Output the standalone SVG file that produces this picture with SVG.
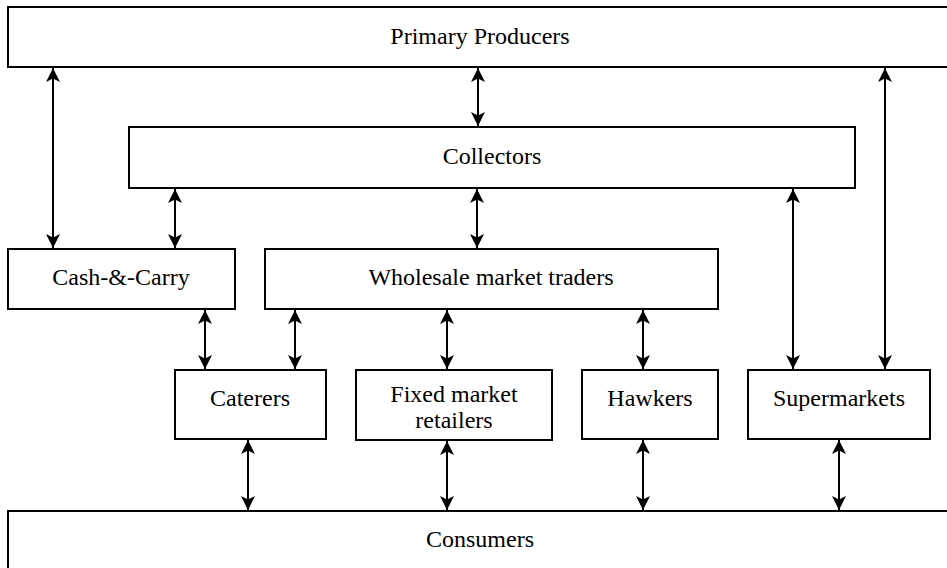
<svg xmlns="http://www.w3.org/2000/svg" width="947" height="568" viewBox="0 0 947 568">
<style>
.box{fill:#fff;stroke:#000;stroke-width:2}
.lbl{font-family:"Liberation Serif","Times New Roman",serif;font-size:24px;fill:#000;text-anchor:middle}
.con line{stroke:#000;stroke-width:2;marker-start:url(#ah);marker-end:url(#ah)}
</style>
<defs>
<marker id="ah" viewBox="0 0 16 16" refX="15" refY="8" markerWidth="16" markerHeight="16" markerUnits="userSpaceOnUse" orient="auto-start-reverse">
<path d="M15,8 L1,1 L4.5,8 L1,15 Z" fill="#000"/>
</marker>
</defs>
<rect width="947" height="568" fill="#fff"/>
<g id="primary-producers"><rect class="box" x="8" y="7" width="950" height="60"/><text class="lbl" x="480" y="44">Primary Producers</text></g>
<g id="collectors"><rect class="box" x="129" y="127" width="726" height="61"/><text class="lbl" x="492" y="164">Collectors</text></g>
<g id="cash-carry"><rect class="box" x="8" y="249" width="227" height="60"/><text class="lbl" x="121" y="285">Cash-&amp;-Carry</text></g>
<g id="wholesale"><rect class="box" x="265" y="249" width="453" height="60"/><text class="lbl" x="491" y="285">Wholesale market traders</text></g>
<g id="caterers"><rect class="box" x="175" y="370" width="151" height="69"/><text class="lbl" x="250" y="406">Caterers</text></g>
<g id="fixed-market"><rect class="box" x="356" y="370" width="196" height="70"/><text class="lbl" x="454" y="402">Fixed market</text><text class="lbl" x="454" y="428">retailers</text></g>
<g id="hawkers"><rect class="box" x="582" y="370" width="136" height="69"/><text class="lbl" x="650" y="406">Hawkers</text></g>
<g id="supermarkets"><rect class="box" x="748" y="370" width="182" height="69"/><text class="lbl" x="839" y="406">Supermarkets</text></g>
<g id="consumers"><rect class="box" x="8" y="511" width="950" height="70"/><text class="lbl" x="480" y="547">Consumers</text></g>
<g id="connectors" class="con">
<line x1="53" y1="68" x2="53" y2="248"/>
<line x1="478" y1="68" x2="478" y2="126"/>
<line x1="885" y1="68" x2="885" y2="369"/>
<line x1="793" y1="189" x2="793" y2="369"/>
<line x1="175" y1="189" x2="175" y2="248"/>
<line x1="477" y1="189" x2="477" y2="248"/>
<line x1="205" y1="310" x2="205" y2="369"/>
<line x1="295" y1="310" x2="295" y2="369"/>
<line x1="447" y1="310" x2="447" y2="369"/>
<line x1="643" y1="310" x2="643" y2="369"/>
<line x1="248" y1="440" x2="248" y2="510"/>
<line x1="447" y1="441" x2="447" y2="510"/>
<line x1="643" y1="440" x2="643" y2="510"/>
<line x1="839" y1="440" x2="839" y2="510"/>
</g>
</svg>
